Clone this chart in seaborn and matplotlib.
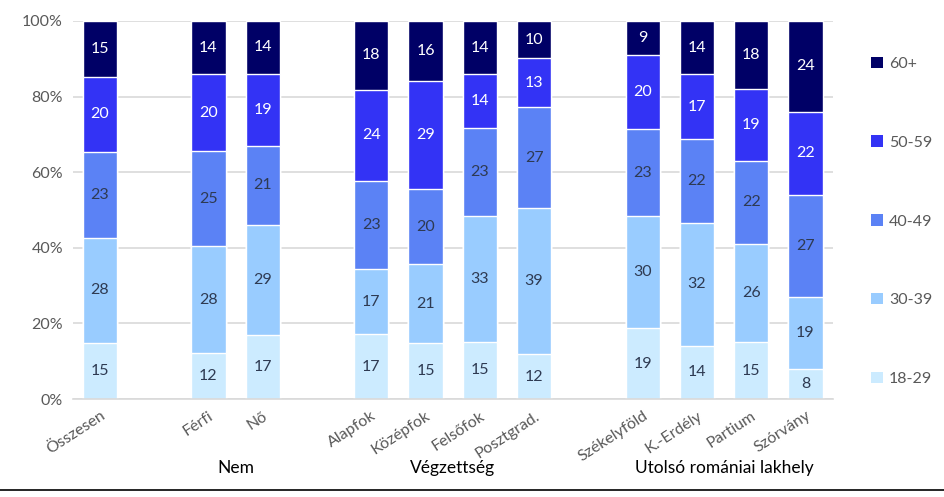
import pandas as pd
import seaborn as sns
import matplotlib.pyplot as plt
from matplotlib.lines import Line2D
from matplotlib.patches import Patch
from matplotlib.transforms import blended_transform_factory

# ----------------------------
# DATA
# ----------------------------
categories = ["Összesen", "Férfi", "Nő", "Alapfok", "Középfok", "Felsőfok",
              "Posztgrad.", "Székelyföld", "K.-Erdély", "Partium", "Szórvány"]
# slot order with empty gaps between groups
order = ["Összesen", " ", "Férfi", "Nő", "  ", "Alapfok", "Középfok", "Felsőfok",
         "Posztgrad.", "   ", "Székelyföld", "K.-Erdély", "Partium", "Szórvány"]
ages = ["18-29", "30-39", "40-49", "50-59", "60+"]
v18_29 = [15, 12, 17, 17, 15, 15, 12, 19, 14, 15, 8]
v30_39 = [28, 28, 29, 17, 21, 33, 39, 30, 32, 26, 19]
v40_49 = [23, 25, 21, 23, 20, 23, 27, 23, 22, 22, 27]
v50_59 = [20, 20, 19, 24, 29, 14, 13, 20, 17, 19, 22]
v60 = [15, 14, 14, 18, 16, 14, 10, 9, 14, 18, 24]
groups = ["Nem", "Végzettség", "Utolsó romániai lakhely"]
group_members = [["Férfi", "Nő"],
                 ["Alapfok", "Középfok", "Felsőfok", "Posztgrad."],
                 ["Székelyföld", "K.-Erdély", "Partium", "Szórvány"]]

colors = ["#CCEBFF", "#99CCFF", "#5B82F5", "#3333F5", "#000066"]
text_colors = ["#2E3A52", "#2E3A52", "#2E3A52", "white", "white"]

df = pd.DataFrame({"cat": categories, "18-29": v18_29, "30-39": v30_39,
                   "40-49": v40_49, "50-59": v50_59, "60+": v60})
tot = df[ages].sum(axis=1)
shares = df[ages].div(tot, axis=0) * 100
cum = shares.cumsum(axis=1)

# ----------------------------
# PLOT
# ----------------------------
sns.set_style("white")
plt.rcParams["font.family"] = ["Lato", "DejaVu Sans"]

fig = plt.figure(figsize=(9.45, 4.97), dpi=100)
ax = fig.add_axes([0.077, 0.197, 0.804, 0.761])

# draw cumulative tops from largest to smallest so they stack visually
for i in range(len(ages) - 1, -1, -1):
    plot_df = pd.DataFrame({"cat": df["cat"], "top": cum[ages[i]]})
    sns.barplot(data=plot_df, x="cat", y="top", order=order, color=colors[i],
                width=0.63, saturation=1, ax=ax, zorder=2)

pos = {c: order.index(c) for c in categories}
for i, age in enumerate(ages):
    for j, c in enumerate(categories):
        mid = cum[age][j] - shares[age][j] / 2
        ax.text(pos[c], mid, str(df[age][j]), ha="center", va="center",
                fontsize=11.5, color=text_colors[i], zorder=3)

ax.set_ylim(0, 100)
ax.set_xlim(-0.5, len(order) - 0.5)
ax.set_yticks(range(0, 101, 20))
ax.set_yticklabels([f"{t}%" for t in range(0, 101, 20)], fontsize=11.5, color="#595959")
ax.yaxis.grid(True, color="#D9D9D9", linewidth=1.2, zorder=0)
ax.set_axisbelow(True)
for s in ["top", "right", "left"]:
    ax.spines[s].set_visible(False)
ax.spines["bottom"].set_color("#D9D9D9")
ax.spines["bottom"].set_linewidth(1.2)
ax.tick_params(axis="both", length=0, pad=7)
ax.set_xlabel("")
ax.set_ylabel("")
ax.set_xticks(range(len(order)))
ax.set_xticklabels(order, rotation=33, ha="right", rotation_mode="anchor",
                   fontsize=11.5, color="#595959")

trans = blended_transform_factory(ax.transData, ax.transAxes)
for g, members in zip(groups, group_members):
    xs = [pos[m] for m in members]
    ax.text(sum(xs) / len(xs), -0.182, g, transform=trans, ha="center",
            va="center", fontsize=12.5, color="black")

handles = [Patch(facecolor=colors[i], edgecolor="none", label=ages[i])
           for i in range(len(ages) - 1, -1, -1)]
fig.legend(handles=handles, loc="upper left", bbox_to_anchor=(0.907, 0.915),
           frameon=False, fontsize=11.5, labelcolor="#595959",
           handlelength=0.7, handleheight=0.7, handletextpad=0.4,
           labelspacing=4.05)

fig.add_artist(Line2D([0, 1], [0.014, 0.014], color="black", linewidth=1.2,
                      transform=fig.transFigure))

plt.savefig("out.png", dpi=100)
